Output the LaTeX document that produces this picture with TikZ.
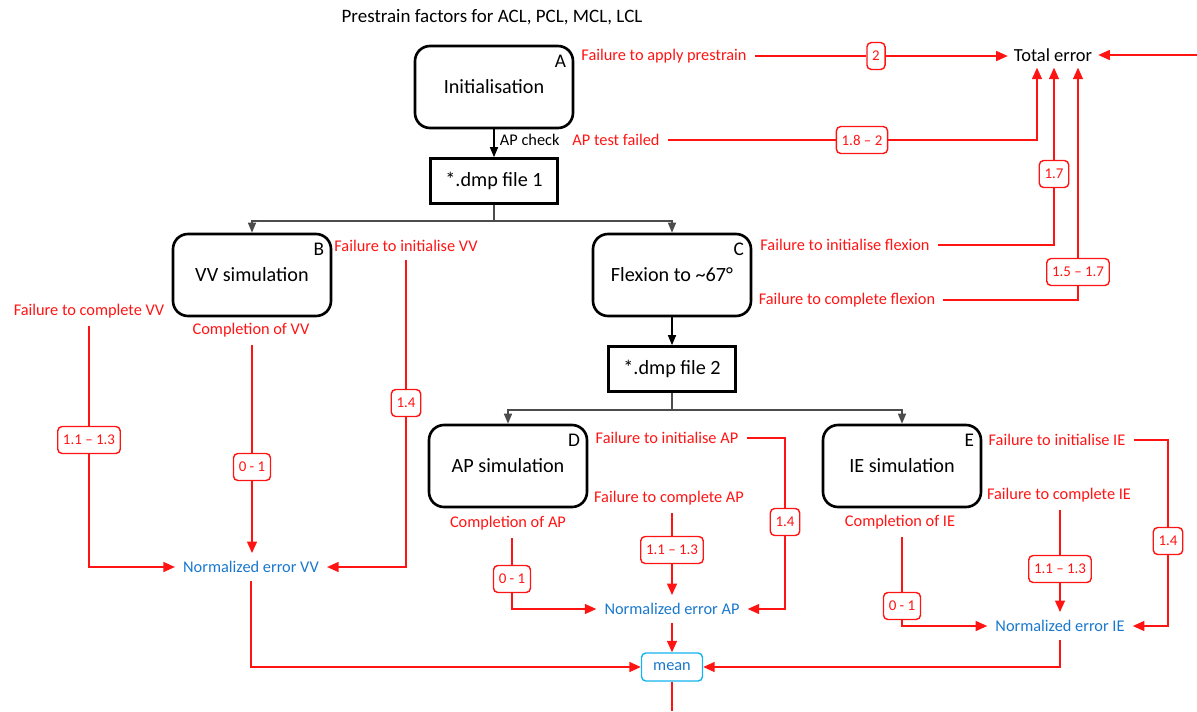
\documentclass[tikz,border=0pt]{standalone}
\usepackage{fontspec}
\setmainfont{Carlito}
\usepackage{tikz}
\usetikzlibrary{arrows.meta,positioning,calc}
\definecolor{errred}{RGB}{255,20,20}
\definecolor{normblue}{RGB}{25,120,205}
\definecolor{meancyan}{RGB}{20,180,240}

\begin{document}
\begin{tikzpicture}[
  x=0.02cm, y=-0.02cm,
  font=\fontsize{9.3}{11}\selectfont,
  >={Triangle[length=2.3mm,width=2mm]},
  sim/.style={rectangle, draw=black, line width=1.5pt, rounded corners=0.3cm, minimum width=3.16cm, minimum height=1.64cm, align=center, font=\fontsize{11.5}{13}\selectfont},
  dmp/.style={rectangle, draw=black, line width=1.5pt, minimum width=2.54cm, minimum height=0.9cm, font=\fontsize{11.5}{13}\selectfont},
  tag/.style={anchor=north east, inner xsep=4.5pt, inner ysep=5.5pt, font=\fontsize{11}{13}\selectfont},
  lbl/.style={text=errred, inner sep=4.5pt},
  err/.style={text=normblue, inner sep=4.5pt},
  val/.style={rectangle, draw=errred, text=errred, fill=white, rounded corners=2.5pt, line width=0.8pt, minimum height=0.54cm, inner xsep=3pt, font=\fontsize{8.5}{10}\selectfont},
  mn/.style={rectangle, draw=meancyan, text=normblue, rounded corners=2.5pt, line width=0.8pt, minimum width=1.22cm, minimum height=0.56cm},
  eline/.style={draw=errred, line width=0.8pt},
  flow/.style={draw=black, line width=0.8pt, -{Triangle[length=2mm,width=1.6mm]}},
  fork/.style={flow, draw=black!70},
]
\useasboundingbox (0,0) rectangle (1197,711);

\node (title) at (492,17) {\fontsize{10.8}{13}\selectfont Prestrain factors for ACL, PCL, MCL, LCL};

\node[sim] (init) at (494,87) {Initialisation};
\node[tag] (tagA) at (init.north east) {A};
\node[dmp] (dmp1) at (494,181) {*.dmp file 1};
\node[sim] (simB) at (252,275) {VV simulation};
\node[tag] (tagB) at (simB.north east) {B};
\node[sim] (simC) at (672,275) {Flexion to \textasciitilde67°};
\node[tag] (tagC) at (simC.north east) {C};
\node[dmp] (dmp2) at (672,369) {*.dmp file 2};
\node[sim] (simD) at (508,466) {AP simulation};
\node[tag] (tagD) at (simD.north east) {D};
\node[sim] (simE) at (902,466) {IE simulation};
\node[tag] (tagE) at (simE.north east) {E};

\node (tot) at (1053,55) {\fontsize{10.5}{12}\selectfont Total error};
\coordinate (rin) at (1197,55);

\node[lbl] (fap) at (664,56) {Failure to apply prestrain};
\node[lbl] (apt) at (616,140) {AP test failed};
\node[lbl] (fiVV) at (406,246) {Failure to initialise VV};
\node[lbl] (fcVV) at (89,311) {Failure to complete VV};
\node[lbl] (cVV) at (251,330) {Completion of VV};
\node[lbl] (fiF) at (845,245) {Failure to initialise flexion};
\node[lbl] (fcF) at (847,300) {Failure to complete flexion};
\node[lbl] (fiAP) at (667,438) {Failure to initialise AP};
\node[lbl] (fcAP) at (669,498) {Failure to complete AP};
\node[lbl] (cAP) at (508,523) {Completion of AP};
\node[lbl] (fiIE) at (1057,440) {Failure to initialise IE};
\node[lbl] (fcIE) at (1059,495) {Failure to complete IE};
\node[lbl] (cIE) at (900,522) {Completion of IE};

\node[val] (v2) at (876,56) {2};
\node[val] (v18) at (862,140) {1.8 – 2};
\node[val] (v17) at (1054,174) {1.7};
\node[val] (v1517) at (1078,272) {1.5 – 1.7};
\node[val] (v14a) at (406,403) {1.4};
\node[val] (v11a) at (89,440) {1.1 – 1.3};
\node[val] (v01a) at (252,467) {0 - 1};
\node[val] (v14b) at (785,522) {1.4};
\node[val] (v11b) at (672,550) {1.1 – 1.3};
\node[val] (v01b) at (512,579) {0 - 1};
\node[val] (v14c) at (1168,541) {1.4};
\node[val] (v11c) at (1060,569) {1.1 – 1.3};
\node[val] (v01c) at (902,606) {0 - 1};

\node[err] (nVV) at (251,567) {Normalized error VV};
\node[err] (nAP) at (672,609) {Normalized error AP};
\node[err] (nIE) at (1060,626) {Normalized error IE};
\node[mn] (mean) at (672,667) {mean};
\coordinate (mout) at (672,711);

\draw[flow] (init) -- node[right, inner sep=3pt, yshift=2pt] {AP check} (dmp1);
\draw[fork] (dmp1.south) -- ++(0,16) -| (simB.north);
\draw[fork] (dmp1.south) -- ++(0,16) -| (simC.north);
\draw[flow] (simC) -- (dmp2);
\draw[fork] (dmp2.south) -- ++(0,17) -| (simD.north);
\draw[fork] (dmp2.south) -- ++(0,17) -| (simE.north);

\draw[eline] (fap.east |- v2) -- (v2);
\draw[eline, ->] (v2) -- (tot.west |- v2);
\draw[eline, ->] (rin) -- (tot.east);
\draw[eline] (apt) -- (v18);
\draw[eline, ->] (v18) -| ($(tot.south)+(-16,0)$);
\draw[eline] (fiF.east) -| (v17);
\draw[eline, ->] (v17) -- (tot.south -| v17);
\draw[eline] (fcF.east) -| (v1517);
\draw[eline, ->] (v1517) -- (tot.south -| v1517);

\draw[eline] (fiVV.south -| v14a) -- (v14a);
\draw[eline, ->] (v14a) |- (nVV);
\draw[eline] (fcVV.south -| v11a) -- (v11a);
\draw[eline, ->] (v11a) |- (nVV);
\draw[eline] (cVV.south -| v01a) -- (v01a);
\draw[eline, ->] (v01a) -- (nVV.north -| v01a);

\draw[eline] (fiAP.east) -| (v14b);
\draw[eline, ->] (v14b) |- (nAP);
\draw[eline] (fcAP.south -| v11b) -- (v11b);
\draw[eline, ->] (v11b) -- (nAP);
\draw[eline] (cAP.south -| v01b) -- (v01b);
\draw[eline, ->] (v01b) |- (nAP);

\draw[eline] (fiIE.east) -| (v14c);
\draw[eline, ->] (v14c) |- (nIE);
\draw[eline] (fcIE.south -| v11c) -- (v11c);
\draw[eline, ->] (v11c) -- (nIE);
\draw[eline] (cIE.south -| v01c) -- (v01c);
\draw[eline, ->] (v01c) |- (nIE);

\draw[eline, ->] (nVV) |- (mean);
\draw[eline, ->] (nAP) -- (mean);
\draw[eline, ->] (nIE) |- (mean);
\draw[eline] (mean) -- (mout);
\end{tikzpicture}
\end{document}
